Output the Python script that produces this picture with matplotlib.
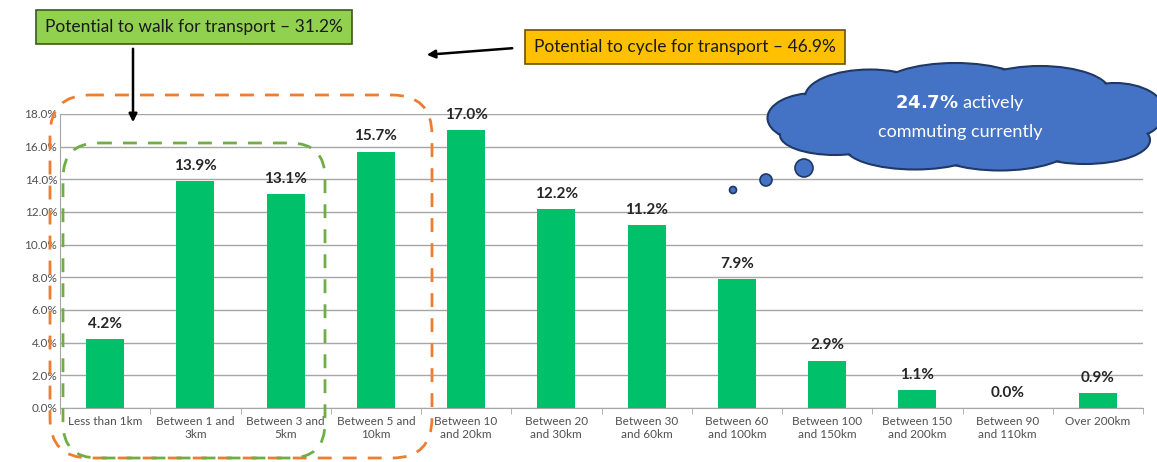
import numpy as np
import matplotlib.pyplot as plt
from matplotlib.patches import FancyBboxPatch, Ellipse, Circle
from matplotlib.transforms import Affine2D

plt.rcParams['font.family'] = ['Lato', 'DejaVu Sans']

# distance categories and share of commuters (%)
categories = ['Less than 1km', 'Between 1 and\n3km', 'Between 3 and\n5km', 'Between 5 and\n10km',
              'Between 10\nand 20km', 'Between 20\nand 30km', 'Between 30\nand 60km', 'Between 60\nand 100km',
              'Between 100\nand 150km', 'Between 150\nand 200km', 'Between 90\nand 110km', 'Over 200km']
shares = [4.2, 13.9, 13.1, 15.7, 17.0, 12.2, 11.2, 7.9, 2.9, 1.1, 0.0, 0.9]
yticks = [0, 2, 4, 6, 8, 10, 12, 14, 16, 18]

W, H = 1157, 462
fig = plt.figure(figsize=(W / 100, H / 100), dpi=100)
ax = fig.add_axes([60 / W, 1 - 408 / H, (1143 - 60) / W, (408 - 114) / H])

x = np.arange(len(categories))
ax.bar(x, shares, width=0.42, color='#00C06A', zorder=3)
for xi, v in zip(x, shares):
    ax.text(xi, v + 0.5, f'{v:.1f}%', ha='center', va='bottom', fontsize=11,
            fontweight='bold', color='#262626')

ax.set_xlim(-0.5, len(categories) - 0.5)
ax.set_ylim(0, 18)
ax.set_yticks(yticks)
ax.set_yticklabels([f'{t:.1f}%' for t in yticks], fontsize=8.5, color='#505050')
ax.set_xticks(x)
ax.set_xticklabels(categories, fontsize=8.5, color='#505050')
ax.set_xticks(np.arange(len(categories) + 1) - 0.5, minor=True)
ax.tick_params(axis='x', which='major', length=0, pad=6)
ax.tick_params(axis='x', which='minor', length=4, color='#A6A6A6')
ax.tick_params(axis='y', length=0, pad=2)
ax.grid(axis='y', color='#A6A6A6', linewidth=1, zorder=0)
for s in ['top', 'right']:
    ax.spines[s].set_visible(False)
ax.spines['left'].set_color('#A6A6A6')
ax.spines['bottom'].set_color('#A6A6A6')

# pixel transform (top-left origin) for the callouts
T = Affine2D().scale(1, -1).translate(0, H).scale(1 / 100) + fig.dpi_scale_trans

# dashed rounded rectangles
orange = FancyBboxPatch((50, 95), 382, 363, boxstyle='round,pad=0,rounding_size=40',
                        transform=T, fill=False, edgecolor='#ED7D31', linewidth=2,
                        linestyle=(0, (5, 4)), clip_on=False, zorder=5)
green = FancyBboxPatch((63, 143), 262, 315, boxstyle='round,pad=0,rounding_size=35',
                       transform=T, fill=False, edgecolor='#70AD47', linewidth=2,
                       linestyle=(0, (5, 4)), clip_on=False, zorder=5)
fig.add_artist(orange)
fig.add_artist(green)

# labelled boxes with arrows
fig.text(194 / W, 1 - 27 / H, 'Potential to walk for transport \u2013 31.2%', ha='center', va='center',
         fontsize=12.5, color='#1a1a1a',
         bbox=dict(boxstyle='square,pad=0.5', facecolor='#92D050', edgecolor='#3a5a1a', linewidth=1.2))
fig.text(685 / W, 1 - 47 / H, 'Potential to cycle for transport \u2013 46.9%', ha='center', va='center',
         fontsize=12.5, color='#1a1a1a',
         bbox=dict(boxstyle='square,pad=0.5', facecolor='#FFC000', edgecolor='#6b5200', linewidth=1.2))
fig.add_artist(plt.Annotation('', xy=(133, 125), xytext=(133, 46), xycoords=T, textcoords=T,
                              arrowprops=dict(arrowstyle='-|>', color='black', lw=1.8, mutation_scale=12)))
fig.add_artist(plt.Annotation('', xy=(424, 55), xytext=(515, 48), xycoords=T, textcoords=T,
                              arrowprops=dict(arrowstyle='-|>', color='black', lw=1.8, mutation_scale=12)))

# thought cloud
blobs = [(815, 118, 95, 50), (870, 97, 130, 55), (955, 88, 150, 50), (1040, 92, 140, 52),
         (1115, 112, 100, 58), (1085, 140, 130, 48), (1000, 148, 140, 45), (915, 147, 140, 45),
         (835, 135, 110, 40), (960, 117, 300, 75)]
for cx, cy, w, h in blobs:
    fig.add_artist(Ellipse((cx, cy), w, h, transform=T, facecolor='#4472C4',
                           edgecolor='#1F3864', linewidth=1.5, zorder=6))
for cx, cy, w, h in blobs:
    fig.add_artist(Ellipse((cx, cy), w - 3, h - 3, transform=T, facecolor='#4472C4',
                           edgecolor='none', zorder=7))
for cx, cy, r in [(733, 190, 3.5), (766, 180, 6), (804, 168, 9)]:
    fig.add_artist(Circle((cx, cy), r, transform=T, facecolor='#4472C4',
                          edgecolor='#1F3864', linewidth=1.2, zorder=6))
fig.text(960 / W, 1 - 103 / H, r'$\bf{24.7\%}$ actively', ha='center', va='center', fontsize=13,
         color='white', zorder=8)
fig.text(960 / W, 1 - 132 / H, 'commuting currently', ha='center', va='center', fontsize=13,
         color='white', zorder=8)

fig.savefig('out.png', dpi=100)
